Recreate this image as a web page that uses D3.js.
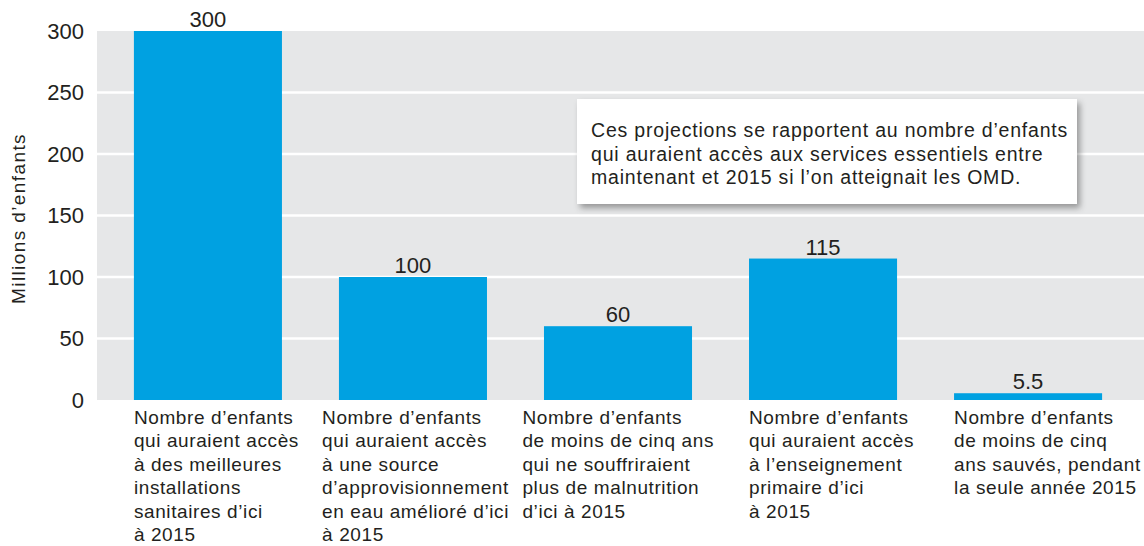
<!DOCTYPE html>
<html>
<head>
<meta charset="utf-8">
<script src="https://cdn.jsdelivr.net/npm/d3@7"></script>
<style>
  body { margin: 0; background: #fff; }
  text { font-family: "Liberation Sans", Arial, sans-serif; fill: #231f20; }
</style>
</head>
<body>
<div id="chart"></div>
<script>
// values
var categories = ["c1", "c2", "c3", "c4", "c5"]
var values = [300, 100, 60, 115, 5.5]
var valueLabels = ["300", "100", "60", "115", "5.5"]
var yTicks = [0, 50, 100, 150, 200, 250, 300]
var categoryLines = [
  ["Nombre d\u2019enfants", "qui auraient acc\u00e8s", "\u00e0 des meilleures", "installations", "sanitaires d\u2019ici", "\u00e0 2015"],
  ["Nombre d\u2019enfants", "qui auraient acc\u00e8s", "\u00e0 une source", "d\u2019approvisionnement", "en eau am\u00e9lior\u00e9 d\u2019ici", "\u00e0 2015"],
  ["Nombre d\u2019enfants", "de moins de cinq ans", "qui ne souffriraient", "plus de malnutrition", "d\u2019ici \u00e0 2015"],
  ["Nombre d\u2019enfants", "qui auraient acc\u00e8s", "\u00e0 l\u2019enseignement", "primaire d\u2019ici", "\u00e0 2015"],
  ["Nombre d\u2019enfants", "de moins de cinq", "ans sauv\u00e9s, pendant", "la seule ann\u00e9e 2015"]
]
var noteLines = [
  "Ces projections se rapportent au nombre d\u2019enfants",
  "qui auraient acc\u00e8s aux services essentiels entre",
  "maintenant et 2015 si l\u2019on atteignait les OMD."
]
var yTitle = "Millions d\u2019enfants"

var W = 1144, H = 546
var plotLeft = 97, plotRight = 1144, plotTop = 31, plotBottom = 400

var svg = d3.select("#chart").append("svg")
  .attr("width", W)
  .attr("height", H)

var defs = svg.append("defs")
var shadow = defs.append("filter").attr("id", "shadow")
  .attr("x", "-10%").attr("y", "-20%").attr("width", "130%").attr("height", "150%")
shadow.append("feDropShadow")
  .attr("dx", 3).attr("dy", 4).attr("stdDeviation", 3)
  .attr("flood-color", "#000").attr("flood-opacity", 0.35)

// scales
var y = d3.scaleLinear().domain([0, 300]).range([plotBottom, plotTop])
var x = d3.scaleBand().domain(categories)
  .range([plotLeft, 1139])
  .paddingInner(0.278)
  .paddingOuter(0.18)

// plot background
svg.append("rect")
  .attr("x", plotLeft).attr("y", y(300))
  .attr("width", plotRight - plotLeft).attr("height", y(0) - y(300))
  .attr("fill", "#e6e7e8")

// gridlines
svg.append("g").selectAll("line")
  .data(yTicks.filter(function(d) { return d > 0 && d < 300 }))
  .enter().append("line")
  .attr("x1", plotLeft).attr("x2", plotRight)
  .attr("y1", function(d) { return y(d) }).attr("y2", function(d) { return y(d) })
  .attr("stroke", "#fff").attr("stroke-width", 2.5)

// y axis
var yAxis = svg.append("g")
  .attr("transform", "translate(" + plotLeft + ",0)")
  .call(d3.axisLeft(y).tickValues(yTicks).tickSize(0).tickPadding(13))
yAxis.select(".domain").remove()
yAxis.selectAll("text")
  .style("font-family", "'Liberation Sans', Arial, sans-serif")
  .style("font-size", "22px")
  .attr("fill", "#231f20")

svg.append("text")
  .attr("transform", "translate(25," + ((plotTop + plotBottom) / 2 + 3) + ") rotate(-90)")
  .attr("text-anchor", "middle")
  .style("font-size", "19px")
  .style("letter-spacing", "1.4px")
  .text(yTitle)

// bars
svg.append("g").selectAll("rect")
  .data(values)
  .enter().append("rect")
  .attr("x", function(d, i) { return x(categories[i]) })
  .attr("y", function(d) { return y(d) })
  .attr("width", x.bandwidth())
  .attr("height", function(d) { return y(0) - y(d) })
  .attr("fill", "#00a1e1")

// value labels
svg.append("g").selectAll("text")
  .data(values)
  .enter().append("text")
  .attr("x", function(d, i) { return x(categories[i]) + x.bandwidth() / 2 })
  .attr("y", function(d) { return y(d) - 4 })
  .attr("text-anchor", "middle")
  .style("font-size", "22px")
  .text(function(d, i) { return valueLabels[i] })

// category labels: left aligned under the bar, pushed left if they would
// run into the next bar's label
categoryLines.forEach(function(lines, i) {
  var g = svg.append("g")
  var t = g.append("text")
    .style("font-size", "19px")
    .style("letter-spacing", "0.6px")
  t.selectAll("tspan")
    .data(lines)
    .enter().append("tspan")
    .attr("x", 0)
    .attr("y", function(d, j) { return 424 + j * 23.4 })
    .text(function(d) { return d })
  var wMax = d3.max(t.selectAll("tspan").nodes(), function(n) { return n.getComputedTextLength() })
  var limit = i < categories.length - 1 ? x(categories[i + 1]) - 35 : W - 2
  var left = Math.min(x(categories[i]), limit - wMax)
  g.attr("transform", "translate(" + left + ",0)")
})

// note box
var note = svg.append("g")
note.append("rect")
  .attr("x", 577).attr("y", 99)
  .attr("width", 500).attr("height", 105)
  .attr("fill", "#fff")
  .attr("filter", "url(#shadow)")
note.append("text")
  .style("font-size", "19.5px")
  .style("letter-spacing", "0.8px")
  .selectAll("tspan")
  .data(noteLines)
  .enter().append("tspan")
  .attr("x", 591)
  .attr("y", function(d, i) { return 137 + i * 23.5 })
  .text(function(d) { return d })
</script>
</body>
</html>
